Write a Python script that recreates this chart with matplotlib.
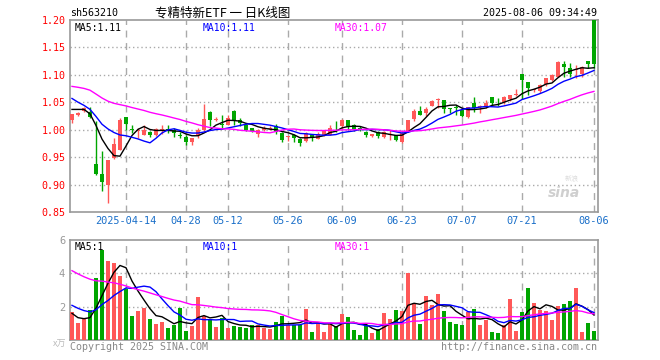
import numpy as np
import pandas as pd
import matplotlib
matplotlib.use('Agg')
import matplotlib.pyplot as plt

# 日K数据 2025-03-31 ~ 2025-08-06 (88个交易日)
opens = [1.017, 1.027, 1.034, 1.033, 0.937, 0.920, 0.900, 0.948, 0.963, 1.023,
         1.001, 0.998, 0.991, 0.996, 0.990, 0.997, 1.001, 0.999, 0.991, 0.986,
         0.977, 0.991, 1.000, 1.032, 1.018, 1.010, 1.009, 1.034, 1.017, 1.009,
         1.003, 0.992, 0.999, 1.002, 1.006, 0.994, 0.987, 0.990, 0.983, 0.979,
         0.990, 0.983, 0.990, 0.991, 1.007, 1.006, 1.017, 1.008, 1.003, 0.996,
         0.988, 0.995, 0.986, 0.991, 0.990, 0.978, 0.996, 1.019, 1.035, 1.030,
         1.044, 1.055, 1.055, 1.039, 1.041, 1.036, 1.024, 1.049, 1.041, 1.042,
         1.059, 1.051, 1.050, 1.056, 1.064, 1.102, 1.087, 1.072, 1.071, 1.083,
         1.091, 1.097, 1.120, 1.113, 1.109, 1.102, 1.126, 1.201]
closes = [1.028, 1.030, 1.039, 1.023, 0.919, 0.904, 0.944, 0.974, 1.018, 1.011,
          1.000, 1.000, 1.000, 0.991, 1.002, 1.001, 1.000, 0.994, 0.989, 0.977,
          0.985, 1.000, 1.019, 1.018, 1.020, 1.008, 1.021, 1.017, 1.012, 1.000,
          0.998, 1.000, 1.004, 1.003, 0.995, 0.982, 0.989, 0.985, 0.976, 0.994,
          0.986, 0.993, 0.997, 1.004, 1.006, 1.017, 1.005, 1.000, 1.002, 0.990,
          0.992, 0.988, 0.995, 0.992, 0.981, 0.994, 1.018, 1.035, 1.027, 1.038,
          1.053, 1.056, 1.038, 1.038, 1.040, 1.025, 1.042, 1.039, 1.043, 1.049,
          1.049, 1.050, 1.059, 1.063, 1.066, 1.090, 1.076, 1.074, 1.082, 1.094,
          1.100, 1.124, 1.115, 1.101, 1.111, 1.114, 1.119, 1.120]
highs = [1.029, 1.032, 1.041, 1.041, 1.015, 0.961, 0.944, 0.985, 1.022, 1.023,
         1.009, 1.004, 1.009, 0.997, 1.004, 1.008, 1.008, 1.003, 0.996, 0.991,
         0.985, 1.004, 1.046, 1.034, 1.023, 1.026, 1.026, 1.036, 1.021, 1.012,
         1.004, 1.002, 1.007, 1.006, 1.010, 0.996, 0.989, 0.993, 0.985, 0.996,
         0.993, 0.995, 1.000, 1.008, 1.016, 1.019, 1.018, 1.010, 1.007, 0.998,
         0.993, 0.997, 0.997, 1.000, 0.991, 0.995, 1.018, 1.037, 1.044, 1.042,
         1.054, 1.058, 1.055, 1.040, 1.045, 1.036, 1.042, 1.059, 1.045, 1.055,
         1.059, 1.058, 1.061, 1.064, 1.074, 1.102, 1.087, 1.075, 1.083, 1.094,
         1.102, 1.125, 1.125, 1.121, 1.118, 1.116, 1.126, 1.201]
lows = [1.013, 1.025, 1.033, 1.022, 0.918, 0.889, 0.866, 0.947, 0.963, 1.000,
        0.994, 0.985, 0.990, 0.986, 0.989, 0.992, 0.994, 0.986, 0.985, 0.972,
        0.972, 0.985, 0.998, 1.006, 1.015, 1.001, 1.009, 1.009, 1.006, 0.998,
        0.996, 0.987, 0.998, 0.999, 0.993, 0.978, 0.979, 0.978, 0.971, 0.978,
        0.980, 0.983, 0.989, 0.990, 0.996, 1.001, 0.999, 0.997, 0.997, 0.987,
        0.987, 0.985, 0.985, 0.981, 0.979, 0.976, 0.996, 1.016, 1.027, 1.025,
        1.043, 1.039, 1.031, 1.031, 1.027, 1.023, 1.021, 1.033, 1.030, 1.040,
        1.045, 1.044, 1.047, 1.053, 1.061, 1.056, 1.064, 1.069, 1.067, 1.080,
        1.088, 1.096, 1.097, 1.097, 1.094, 1.097, 1.112, 1.112]
volumes = [1.68, 1.02, 1.32, 1.80, 3.72, 5.42, 4.74, 4.64, 3.84, 3.04,
           1.44, 1.74, 1.94, 1.24, 0.96, 1.08, 0.72, 0.88, 1.92, 0.54,
           0.84, 2.58, 1.44, 1.24, 0.80, 1.34, 0.72, 0.84, 0.80, 0.72,
           0.88, 0.88, 0.74, 0.68, 1.10, 1.44, 0.92, 0.88, 0.88, 1.88,
           0.48, 1.08, 0.48, 0.95, 0.84, 1.56, 1.36, 0.60, 0.30, 0.90,
           0.40, 0.64, 1.60, 1.26, 1.80, 1.74, 4.02, 2.20, 0.96, 2.64,
           2.08, 2.76, 1.74, 1.08, 0.96, 0.90, 1.68, 1.86, 0.90, 1.20,
           0.48, 0.42, 0.90, 2.46, 0.54, 1.68, 3.12, 2.22, 1.80, 1.74,
           1.20, 2.04, 2.16, 2.34, 3.12, 0.48, 1.02, 0.54]

# 03-31 之前29天 (只用来算均线, 从图上均线起点估出来的)
prev_closes = [1.08, 1.10, 1.12, 1.13, 1.12, 1.12,
               1.09, 1.09, 1.08, 1.09, 1.08, 1.08, 1.09, 1.08, 1.07, 1.08,
               1.08, 1.07, 1.08, 1.07,
               1.098, 1.097, 1.096, 1.048, 1.046, 1.030, 1.039, 1.063, 1.025]
prev_volumes = [6.8, 6.5, 6.2, 6.6, 6.0, 6.4, 6.1, 6.3, 6.2,
                5.0, 4.8, 4.6, 4.5, 4.3, 4.2, 4.0, 3.9, 3.9, 3.8, 3.9,
                2.8, 2.7, 2.6, 2.4, 2.3, 2.32, 1.62, 1.50, 0.88]

tick_idx = [9, 19, 26, 36, 45, 55, 65, 75, 87]
tick_labels = ['2025-04-14', '04-28', '05-12', '05-26', '06-09', '06-23', '07-07', '07-21', '08-06']

RED = '#ff5858'
GREEN = '#00a600'
GRID = '#aaaaaa'
MONO = 'DejaVu Sans Mono'

o = np.array(opens)
c = np.array(closes)
h = np.array(highs)
l = np.array(lows)
v = np.array(volumes)
x = np.arange(len(c))
n0 = len(prev_closes)
up = c >= o
colors = np.where(up, RED, GREEN)

cs = pd.Series(prev_closes + closes)
vs = pd.Series(prev_volumes + volumes)
ma_c = {n: cs.rolling(n).mean().values[n0:] for n in (5, 10, 30)}
ma_v = {n: vs.rolling(n).mean().values[n0:] for n in (5, 10, 30)}
ma_col = {5: 'black', 10: '#0000ff', 30: '#ff00ff'}

fig = plt.figure(figsize=(6.6, 3.6), dpi=100)
ax = fig.add_axes([70 / 660, 1 - 212 / 360, 528 / 660, 192 / 360])
axv = fig.add_axes([70 / 660, 20 / 360, 528 / 660, 100 / 360])

# K线
ax.vlines(x, l, h, colors=colors, linewidth=1.0, zorder=3)
body = np.maximum(np.abs(c - o), 0.0012)
ax.bar(x, body, bottom=np.minimum(o, c), width=0.72, color=colors, linewidth=0, zorder=4)
for n in (5, 10, 30):
    ax.plot(x, ma_c[n], color=ma_col[n], linewidth=1.0, zorder=5)

# 成交量
axv.bar(x, v, width=0.82, color=colors, linewidth=0, zorder=3)
for n in (5, 10, 30):
    axv.plot(x, ma_v[n], color=ma_col[n], linewidth=1.0, zorder=4)

for a in (ax, axv):
    a.set_xlim(-0.33, 87.67)
    for t in tick_idx:
        a.axvline(t, color=GRID, linewidth=1.0, linestyle=(0, (5, 4)), zorder=1)
    for s in a.spines.values():
        s.set_color('#999999')
        s.set_linewidth(1.2)
    a.tick_params(length=0)
    a.set_xticks(tick_idx)

ax.set_ylim(0.85, 1.20)
yt = [0.85, 0.90, 0.95, 1.00, 1.05, 1.10, 1.15, 1.20]
ax.set_yticks(yt)
ax.set_yticklabels(['%.2f' % t for t in yt], color='#ff0000', family=MONO, fontsize=7.2)
for t in yt[1:-1]:
    ax.axhline(t, color=GRID, linewidth=1.0, linestyle=(0, (1, 2)), zorder=1)
ax.set_xticklabels(tick_labels, color='#1a6fc9', family=MONO, fontsize=7.4)
ax.tick_params(axis='x', pad=3)
ax.tick_params(axis='y', pad=3)

axv.set_ylim(0, 6)
axv.set_yticks([2, 4, 6])
axv.set_yticklabels(['2', '4', '6'], color='#999999', family=MONO, fontsize=7.5)
axv.set_xticklabels([])
for t in (2, 4):
    axv.axhline(t, color=GRID, linewidth=1.0, linestyle=(0, (1, 2)), zorder=1)

# 均线数值
for a, ma, fmt, yy in ((ax, ma_c, '%.2f', 0.958), (axv, ma_v, '%d', 0.93)):
    for n, xx in ((5, 0.009), (10, 0.252), (30, 0.502)):
        val = ma[n][-1]
        s = fmt % val if fmt == '%.2f' else '%d' % int(val)
        a.text(xx, yy, 'MA%d:%s' % (n, s), transform=a.transAxes, color=ma_col[n],
               family=MONO, fontsize=7, va='center', ha='left', zorder=6)

# 水印
ax.text(0.935, 0.1, 'sina', transform=ax.transAxes, color='#cfcfcf', fontsize=10,
        style='italic', fontweight='bold', ha='center', va='center', zorder=2)
ax.text(0.95, 0.17, '新浪', transform=ax.transAxes, color='#dcdcdc', fontsize=5,
        family=['Noto Sans CJK SC', 'DejaVu Sans'], ha='center', va='center', zorder=2)

fig.text(70 / 660, 1 - 13 / 360, 'sh563210', family=MONO, fontsize=7.2, va='center', ha='left')
fig.text(223 / 660, 1 - 13 / 360, '专精特新ETF 一 日K线图', family=['Noto Sans CJK SC', 'DejaVu Sans'],
         fontsize=9, va='center', ha='center')
fig.text(597 / 660, 1 - 13 / 360, '2025-08-06 09:34:49', family=MONO, fontsize=7.2, va='center', ha='right')
fig.text(70 / 660, 1 - 347 / 360, 'Copyright 2025 SINA.COM', family=MONO, fontsize=7.2,
         color='#888888', va='center', ha='left')
fig.text(597 / 660, 1 - 347 / 360, 'http://finance.sina.com.cn', family=MONO, fontsize=7.2,
         color='#888888', va='center', ha='right')
fig.text(66 / 660, 1 - 344 / 360, 'x万', family=['Noto Sans CJK SC', 'DejaVu Sans'], fontsize=6.5,
         color='#bbbbbb', va='center', ha='right')

fig.savefig('out.png', dpi=100)
